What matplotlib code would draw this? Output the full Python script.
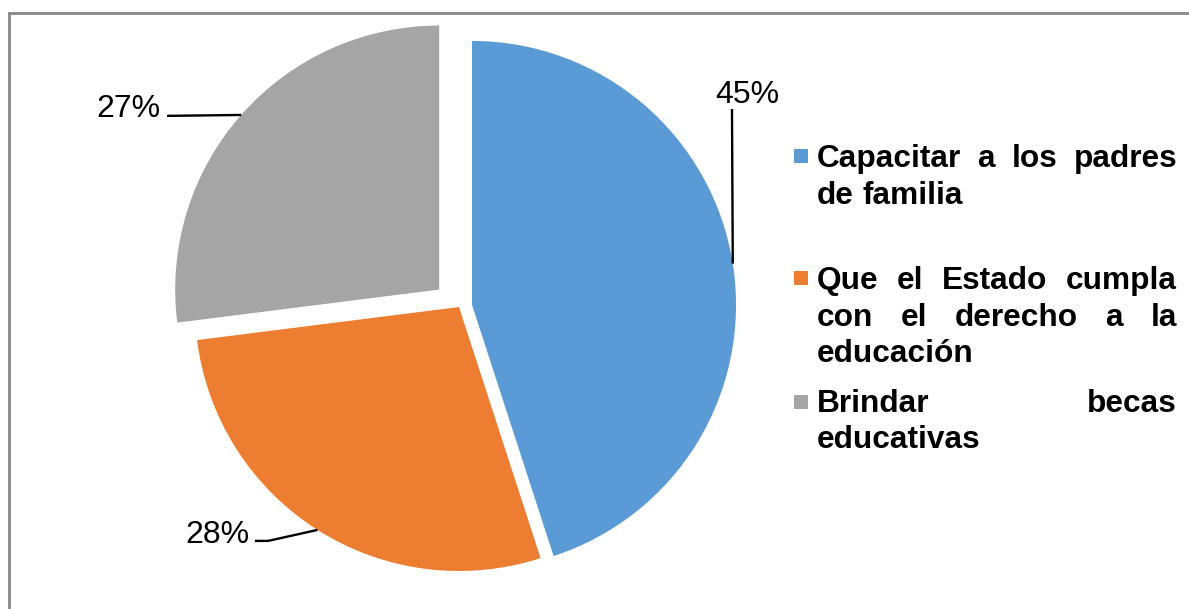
import matplotlib
matplotlib.use("Agg")
import numpy as np
import matplotlib.pyplot as plt
from matplotlib.patches import Rectangle
from matplotlib.lines import Line2D

# Data
labels = ["Capacitar a los padres de familia",
          "Que el Estado cumpla con el derecho a la educación",
          "Brindar becas educativas"]
values = [45, 28, 27]
colors = ["#5B9BD5", "#ED7D31", "#A5A5A5"]
explode = [0.05, 0.0, 0.10]

plt.rcParams['font.family'] = ['Liberation Sans', 'DejaVu Sans']

W, H = 1189, 609
fig = plt.figure(figsize=(W / 100, H / 100), dpi=100)

# pie placement (pixels): centre and radius
cx, cy, R = 459, 307, 264
lim = 1.2
size = 2 * lim * R
ax = fig.add_axes([(cx - size / 2) / W, (H - cy - size / 2) / H, size / W, size / H])
wedges, _ = ax.pie(values, colors=colors, explode=explode, startangle=90,
                   counterclock=False, wedgeprops=dict(linewidth=0))
ax.set_xlim(-lim, lim)
ax.set_ylim(-lim, lim)

# data labels with leader lines (label positions in axes data units)
label_pos = [(1.091, 0.773), (-0.915, -0.894), (-1.252, 0.720)]
leader_start = [[(1.034, 0.750)],
                [(-0.773, -0.886), (-0.723, -0.886)],
                [(-1.106, 0.724)]]
for w, v, (lx, ly), pts in zip(wedges, values, label_pos, leader_start):
    mid = np.deg2rad((w.theta1 + w.theta2) / 2)
    ex = w.center[0] + w.r * np.cos(mid)
    ey = w.center[1] + w.r * np.sin(mid)
    xs = [p[0] for p in pts] + [ex]
    ys = [p[1] for p in pts] + [ey]
    ax.plot(xs, ys, color='black', lw=1.7, solid_capstyle='butt')
    ax.text(lx, ly, f"{v}%", ha='center', va='baseline', fontsize=23)

# legend with justified text
fs = 22.8
box_left, box_right = 817, 1177
box_w = box_right - box_left
first_baseline = [167, 289, 412]
line_step = 36.5
renderer = fig.canvas.get_renderer()


def text_width(s):
    t = fig.text(0, 0, s, fontsize=fs, fontweight='bold')
    w = t.get_window_extent(renderer).width
    t.remove()
    return w


space_w = text_width("x x") - text_width("xx")

for label, color, y0 in zip(labels, colors, first_baseline):
    words = label.split()
    widths = [text_width(wd) for wd in words]
    lines, cur = [], []
    for wd, wdw in zip(words, widths):
        trial = cur + [(wd, wdw)]
        total = sum(x[1] for x in trial) + space_w * (len(trial) - 1)
        if cur and total > box_w:
            lines.append(cur)
            cur = [(wd, wdw)]
        else:
            cur = trial
    lines.append(cur)

    for i, line in enumerate(lines):
        yb = y0 + i * line_step
        last = i == len(lines) - 1
        if last or len(line) == 1:
            gap = space_w
        else:
            gap = (box_w - sum(x[1] for x in line)) / (len(line) - 1)
        x = box_left
        for wd, wdw in line:
            fig.text(x / W, 1 - yb / H, wd, fontsize=fs, fontweight='bold',
                     va='baseline', ha='left')
            x += wdw + gap

    # colour square
    fig.add_artist(Rectangle((794 / W, 1 - (y0 - 3.5) / H), 14 / W, 14 / H,
                             transform=fig.transFigure, color=color, lw=0))

# chart border (top and left visible)
fig.add_artist(Line2D([8.5 / W, 8.5 / W], [0, 1 - 12.5 / H], color='#888888', lw=2,
                      transform=fig.transFigure))
fig.add_artist(Line2D([8.5 / W, 1], [1 - 12.5 / H, 1 - 12.5 / H], color='#888888', lw=2,
                      transform=fig.transFigure))

fig.savefig("out.png", dpi=100)
